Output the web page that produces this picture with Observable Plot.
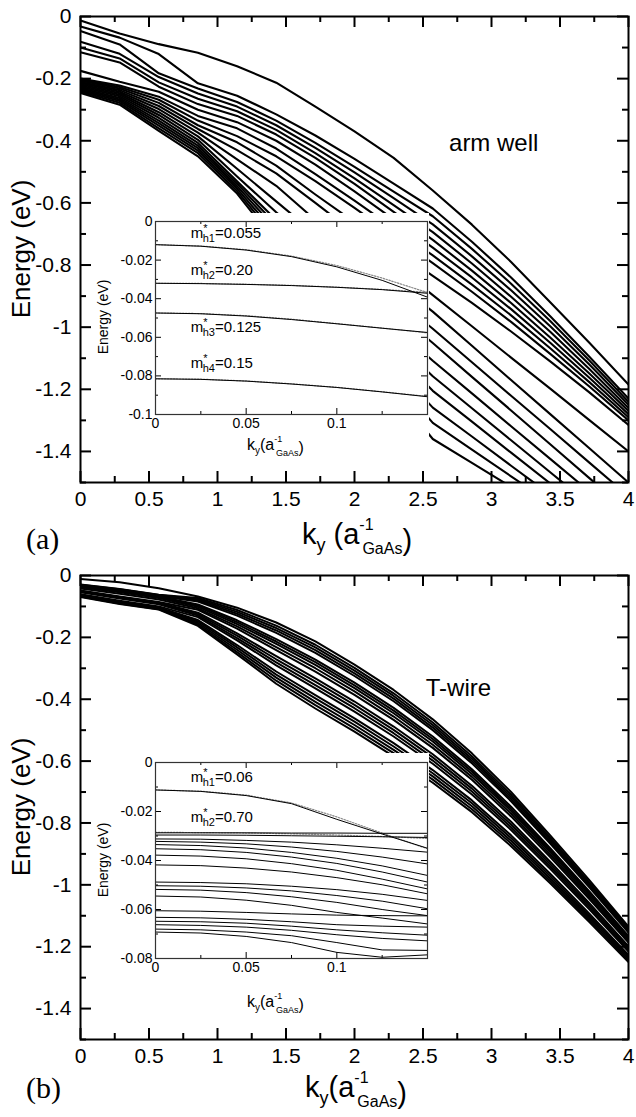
<!DOCTYPE html>
<html><head><meta charset="utf-8">
<script src="https://cdn.jsdelivr.net/npm/d3@7"></script>
<script src="https://cdn.jsdelivr.net/npm/@observablehq/plot@0.6"></script>
<style>
body{margin:0;background:#fff;}
#root{position:relative;width:636px;height:1117px;overflow:hidden;background:#fff;}
.box{position:absolute;}
</style></head><body><div id="root"></div>
<script>
// ---------------- data ----------------
const kGrid = [0, 0.2857, 0.5714, 0.8571, 1.1429, 1.4286, 1.7143, 2.0, 2.2857, 2.5714, 2.8571, 3.1429, 3.4286, 3.7143, 4.0];

// arm well: energies (eV) of the 20 hole bands at each k of kGrid
const armWellByK = [
 [-0.013,-0.032,-0.047,-0.081,-0.100,-0.115,-0.175,-0.200,-0.204,-0.207,-0.211,-0.214,-0.218,-0.222,-0.226,-0.230,-0.234,-0.238,-0.242,-0.246],
 [-0.055,-0.068,-0.090,-0.120,-0.135,-0.148,-0.210,-0.222,-0.227,-0.232,-0.237,-0.242,-0.247,-0.252,-0.257,-0.262,-0.267,-0.272,-0.278,-0.284],
 [-0.089,-0.121,-0.183,-0.195,-0.212,-0.226,-0.242,-0.258,-0.268,-0.278,-0.288,-0.298,-0.308,-0.317,-0.326,-0.335,-0.343,-0.351,-0.360,-0.368],
 [-0.117,-0.215,-0.232,-0.248,-0.265,-0.282,-0.300,-0.320,-0.335,-0.350,-0.362,-0.374,-0.386,-0.397,-0.407,-0.416,-0.424,-0.432,-0.440,-0.450],
 [-0.160,-0.255,-0.275,-0.290,-0.305,-0.320,-0.340,-0.360,-0.385,-0.405,-0.430,-0.460,-0.490,-0.515,-0.530,-0.538,-0.546,-0.554,-0.562,-0.570],
 [-0.213,-0.315,-0.335,-0.350,-0.365,-0.380,-0.400,-0.425,-0.450,-0.480,-0.505,-0.545,-0.595,-0.630,-0.655,-0.670,-0.685,-0.700,-0.715,-0.730],
 [-0.290,-0.383,-0.407,-0.423,-0.440,-0.455,-0.477,-0.507,-0.530,-0.573,-0.600,-0.655,-0.700,-0.735,-0.775,-0.800,-0.823,-0.850,-0.870,-0.890],
 [-0.370,-0.458,-0.484,-0.502,-0.521,-0.539,-0.563,-0.593,-0.616,-0.662,-0.697,-0.753,-0.801,-0.841,-0.886,-0.918,-0.949,-0.984,-1.014,-1.047],
 [-0.455,-0.538,-0.564,-0.585,-0.607,-0.629,-0.653,-0.681,-0.705,-0.748,-0.797,-0.851,-0.903,-0.946,-0.997,-1.038,-1.077,-1.122,-1.161,-1.204],
 [-0.560,-0.618,-0.643,-0.669,-0.694,-0.719,-0.744,-0.769,-0.794,-0.835,-0.897,-0.950,-1.005,-1.051,-1.108,-1.158,-1.205,-1.259,-1.308,-1.360],
 [-0.670,-0.725,-0.748,-0.772,-0.795,-0.818,-0.840,-0.863,-0.886,-0.922,-0.997,-1.060,-1.113,-1.160,-1.213,-1.261,-1.304,-1.352,-1.394,-1.437],
 [-0.790,-0.840,-0.860,-0.881,-0.902,-0.922,-0.942,-0.962,-0.983,-1.014,-1.098,-1.170,-1.221,-1.268,-1.319,-1.364,-1.404,-1.446,-1.480,-1.514],
 [-0.920,-0.965,-0.980,-0.997,-1.015,-1.033,-1.050,-1.068,-1.086,-1.110,-1.198,-1.280,-1.328,-1.377,-1.424,-1.467,-1.503,-1.539,-1.566,-1.591],
 [-1.050,-1.095,-1.107,-1.120,-1.135,-1.149,-1.163,-1.177,-1.191,-1.210,-1.299,-1.390,-1.436,-1.486,-1.529,-1.570,-1.603,-1.633,-1.651,-1.668],
 [-1.185,-1.230,-1.240,-1.250,-1.260,-1.270,-1.280,-1.290,-1.300,-1.315,-1.400,-1.500,-1.544,-1.594,-1.635,-1.673,-1.702,-1.726,-1.737,-1.745]
];

// T-wire: energies (eV) of the 19 hole bands at each k of kGrid
const tWireByK = [
 [-0.011,-0.0287,-0.0296,-0.0312,-0.0322,-0.0335,-0.0352,-0.0378,-0.0418,-0.0488,-0.0503,-0.0518,-0.0545,-0.0605,-0.0632,-0.0648,-0.0662,-0.068,-0.0692],
 [-0.022,-0.0434,-0.0445,-0.0464,-0.0476,-0.0492,-0.0512,-0.0543,-0.0592,-0.0676,-0.0695,-0.0712,-0.0745,-0.0817,-0.085,-0.087,-0.0886,-0.0908,-0.092],
 [-0.041,-0.062,-0.0631,-0.065,-0.0663,-0.0678,-0.0698,-0.0729,-0.0776,-0.086,-0.0878,-0.0895,-0.0928,-0.0999,-0.1031,-0.105,-0.1067,-0.1088,-0.110],
 [-0.068,-0.0728,-0.0766,-0.0804,-0.0842,-0.0937,-0.0975,-0.1013,-0.106,-0.1108,-0.1203,-0.125,-0.1298,-0.1345,-0.144,-0.1488,-0.1535,-0.1583,-0.163],
 [-0.104,-0.1116,-0.1176,-0.1236,-0.1297,-0.1448,-0.1508,-0.1569,-0.1644,-0.172,-0.187,-0.1946,-0.2022,-0.2097,-0.2248,-0.2324,-0.2399,-0.2475,-0.255],
 [-0.152,-0.1619,-0.1698,-0.1777,-0.1857,-0.2055,-0.2134,-0.2213,-0.2312,-0.2411,-0.2609,-0.2708,-0.2807,-0.2906,-0.3104,-0.3203,-0.3302,-0.3401,-0.35],
 [-0.213,-0.2239,-0.2325,-0.2412,-0.2499,-0.2716,-0.2803,-0.289,-0.2998,-0.3107,-0.3324,-0.3432,-0.3541,-0.3649,-0.3866,-0.3975,-0.4083,-0.4192,-0.43],
 [-0.288,-0.2989,-0.3075,-0.3162,-0.3249,-0.3466,-0.3553,-0.364,-0.3748,-0.3857,-0.4074,-0.4182,-0.4291,-0.4399,-0.4616,-0.4725,-0.4833,-0.4942,-0.505],
 [-0.37,-0.3808,-0.3894,-0.398,-0.4066,-0.4281,-0.4367,-0.4453,-0.456,-0.4668,-0.4883,-0.499,-0.5098,-0.5205,-0.542,-0.5528,-0.5635,-0.5743,-0.585],
 [-0.465,-0.4753,-0.4835,-0.4917,-0.4999,-0.5204,-0.5286,-0.5368,-0.547,-0.5573,-0.5778,-0.588,-0.5983,-0.6085,-0.629,-0.6393,-0.6495,-0.6598,-0.67],
 [-0.575,-0.5845,-0.5921,-0.5997,-0.6073,-0.6263,-0.6339,-0.6415,-0.651,-0.6605,-0.6795,-0.689,-0.6985,-0.708,-0.727,-0.7365,-0.746,-0.7555,-0.765],
 [-0.70,-0.7088,-0.7158,-0.7228,-0.7298,-0.7473,-0.7543,-0.7613,-0.77,-0.7788,-0.7963,-0.805,-0.8138,-0.8225,-0.84,-0.8488,-0.8575,-0.8663,-0.875],
 [-0.84,-0.8478,-0.854,-0.8602,-0.8664,-0.8819,-0.8881,-0.8943,-0.902,-0.9098,-0.9253,-0.933,-0.9408,-0.9485,-0.964,-0.9718,-0.9795,-0.9873,-0.995],
 [-0.985,-0.9918,-0.9972,-1.0026,-1.008,-1.0215,-1.0269,-1.0323,-1.039,-1.0458,-1.0593,-1.066,-1.0728,-1.0795,-1.093,-1.0998,-1.1065,-1.1133,-1.12],
 [-1.135,-1.1408,-1.1454,-1.15,-1.1546,-1.1661,-1.1707,-1.1753,-1.181,-1.1868,-1.1983,-1.204,-1.2098,-1.2155,-1.227,-1.2328,-1.2385,-1.2443,-1.25]
];

// insets: k grid and bands (solid) plus dotted parabolic fits
const insetK = [0, 0.025, 0.05, 0.075, 0.1, 0.125, 0.15];
const armInsetBands = [
 [-0.012,-0.0128,-0.0148,-0.0182,-0.0235,-0.0305,-0.0392],
 [-0.032,-0.0322,-0.0326,-0.0332,-0.0341,-0.0353,-0.0372],
 [-0.0474,-0.0478,-0.049,-0.0508,-0.053,-0.0553,-0.0575],
 [-0.0815,-0.0818,-0.0827,-0.0842,-0.086,-0.0883,-0.0908]
];
const armInsetFits = [
 [-0.012,-0.0127,-0.0146,-0.0179,-0.0228,-0.0293,-0.0368],
 [-0.032,-0.0321,-0.0325,-0.0331,-0.034,-0.0352,-0.0367],
 [-0.0474,-0.0477,-0.0488,-0.0506,-0.0529,-0.0552,-0.0577],
 [-0.0815,-0.0817,-0.0826,-0.0841,-0.0859,-0.0882,-0.0906]
];
const armMasses = [["h1","0.055"],["h2","0.20"],["h3","0.125"],["h4","0.15"]];

const tWireInsetBands = [
 [-0.0112,-0.0118,-0.0135,-0.0168,-0.0232,-0.0292,-0.035],
 [-0.0287,-0.0287,-0.0287,-0.0288,-0.0288,-0.0289,-0.0289],
 [-0.0296,-0.0296,-0.0297,-0.0299,-0.0301,-0.0303,-0.0306],
 [-0.0312,-0.0313,-0.0318,-0.0325,-0.0336,-0.035,-0.0366],
 [-0.0322,-0.0325,-0.0332,-0.0345,-0.0363,-0.0386,-0.0414],
 [-0.0335,-0.0339,-0.0349,-0.0367,-0.0391,-0.0422,-0.0461],
 [-0.0352,-0.0356,-0.0367,-0.0386,-0.0412,-0.0447,-0.0488],
 [-0.0378,-0.0382,-0.0393,-0.0413,-0.044,-0.0476,-0.0516],
 [-0.0418,-0.0421,-0.0431,-0.0447,-0.047,-0.0499,-0.0536],
 [-0.0488,-0.049,-0.0495,-0.0505,-0.0519,-0.0538,-0.0563],
 [-0.0503,-0.0505,-0.0512,-0.0524,-0.0543,-0.0566,-0.0597],
 [-0.0518,-0.0521,-0.0531,-0.0548,-0.0571,-0.06,-0.0625],
 [-0.0545,-0.0549,-0.0562,-0.0583,-0.0612,-0.0635,-0.0659],
 [-0.0605,-0.0607,-0.0612,-0.0618,-0.0623,-0.0625,-0.0626],
 [-0.0632,-0.0634,-0.064,-0.065,-0.0662,-0.0668,-0.0672],
 [-0.0648,-0.065,-0.0656,-0.0668,-0.0683,-0.0695,-0.0705],
 [-0.0662,-0.0665,-0.0672,-0.0685,-0.0703,-0.0718,-0.0728],
 [-0.068,-0.0683,-0.0692,-0.0707,-0.0735,-0.0765,-0.0767],
 [-0.0692,-0.0696,-0.071,-0.0735,-0.0775,-0.0795,-0.0785]
];
const tWireInsetFits = [
 [-0.0112,-0.0117,-0.0133,-0.0165,-0.0222,-0.0288,-0.0352],
 [-0.0285,-0.0286,-0.0288,-0.0291,-0.0296,-0.0302,-0.031]
];
const tWireMasses = [["h1","0.06"],["h2","0.70"]];

// ticks
const mainXMajor = [0,0.5,1,1.5,2,2.5,3,3.5,4];
const mainXMinor = [0.25,0.75,1.25,1.75,2.25,2.75,3.25,3.75];
const mainYMajor = [0,-0.2,-0.4,-0.6,-0.8,-1,-1.2,-1.4];
const mainYMinor = [-0.1,-0.3,-0.5,-0.7,-0.9,-1.1,-1.3,-1.5];
const insetXMajor = [0,0.05,0.1,0.15];
const insetXMinor = [0.025,0.075,0.125];
const armInsetYMajor = [0,-0.02,-0.04,-0.06,-0.08,-0.1];
const armInsetYMinor = [-0.01,-0.03,-0.05,-0.07,-0.09];
const tWireInsetYMajor = [0,-0.02,-0.04,-0.06,-0.08];
const tWireInsetYMinor = [-0.01,-0.03,-0.05,-0.07];

// ---------------- helpers ----------------
const FONT = '"Liberation Sans", Arial, Helvetica, sans-serif';
const fmt = d => d === 0 ? "0" : (d === 0.15 ? "" : String(d));
const root = document.getElementById("root");

function longFromColumns(cols, ks) {
  const out = [];
  cols.forEach((col, j) => col.forEach((E, i) => out.push({k: ks[j], E, band: i})));
  return out;
}
function longFromRows(rows, ks) {
  const out = [];
  rows.forEach((row, i) => row.forEach((E, j) => out.push({k: ks[j], E, band: i})));
  return out;
}
function place(el, left, top) {
  const d = document.createElement("div");
  d.className = "box";
  d.style.left = left + "px"; d.style.top = top + "px";
  d.appendChild(el); root.appendChild(d);
  return d;
}
function tickMarks(xMaj, xMin, yMaj, yMin, pw, ph, big, small, sw) {
  return [
    Plot.tickX(xMaj, {x: d => d, insetTop: ph - big, strokeWidth: sw}),
    Plot.tickX(xMaj, {x: d => d, insetBottom: ph - big, strokeWidth: sw}),
    Plot.tickX(xMin, {x: d => d, insetTop: ph - small, strokeWidth: sw}),
    Plot.tickX(xMin, {x: d => d, insetBottom: ph - small, strokeWidth: sw}),
    Plot.tickY(yMaj, {y: d => d, insetRight: pw - big, strokeWidth: sw}),
    Plot.tickY(yMaj, {y: d => d, insetLeft: pw - big, strokeWidth: sw}),
    Plot.tickY(yMin, {y: d => d, insetRight: pw - small, strokeWidth: sw}),
    Plot.tickY(yMin, {y: d => d, insetLeft: pw - small, strokeWidth: sw})
  ];
}

function mainPanel(cols, svgTop, marginTop, height, lineWidth, note) {
  const marginLeft = 80, marginRight = 8, marginBottom = height - marginTop - (note.frameH);
  const pw = 636 - marginLeft - marginRight, ph = note.frameH;
  const plot = Plot.plot({
    width: 636, height, marginLeft, marginRight, marginTop, marginBottom,
    x: {domain: [0, 4], ticks: mainXMajor, tickFormat: fmt, tickSize: 0, tickPadding: 9, label: null},
    y: {domain: [-1.5, 0], ticks: mainYMajor, tickFormat: fmt, tickSize: 0, tickPadding: 9, label: null},
    style: {fontSize: "21px", fontFamily: FONT, color: "black", background: "transparent", overflow: "visible"},
    marks: [
      Plot.line(longFromColumns(cols, kGrid), {x: "k", y: "E", z: "band", stroke: "black", strokeWidth: lineWidth, clip: true}),
      ...tickMarks(mainXMajor, mainXMinor, mainYMajor, mainYMinor, pw, ph, 11, 6, 2),
      Plot.frame({stroke: "black", strokeWidth: 2}),
      Plot.text([note], {x: "k", y: "E", text: "text", textAnchor: "start", lineAnchor: "bottom", fontSize: 24, fill: "black"})
    ]
  });
  place(plot, 0, svgTop);
}

function insetPanel(rows, fits, yDomain, yMaj, yMin, masses, massE, svgTop, marginTop, frameH, height) {
  const marginLeft = 60, marginRight = 2, marginBottom = height - marginTop - frameH;
  const pw = 334 - marginLeft - marginRight;
  const labels = masses.map((m, i) => ({k: 0.0195, E: massE[i], text: "m*" + m[0] + "=" + m[1]}));
  const plot = Plot.plot({
    width: 334, height, marginLeft, marginRight, marginTop, marginBottom,
    x: {domain: [0, 0.15], ticks: insetXMajor, tickFormat: fmt, tickSize: 0, tickPadding: 4, label: null},
    y: {domain: yDomain, ticks: yMaj, tickFormat: fmt, tickSize: 0, tickPadding: 3, label: null},
    style: {fontSize: "14px", fontFamily: FONT, color: "black", background: "white", overflow: "visible"},
    marks: [
      Plot.line(longFromRows(fits, insetK), {x: "k", y: "E", z: "band", stroke: "#888", strokeWidth: 1.2, strokeDasharray: "1.5,1.5"}),
      Plot.line(longFromRows(rows, insetK), {x: "k", y: "E", z: "band", stroke: "black", strokeWidth: 1}),
      ...tickMarks(insetXMajor, insetXMinor, yMaj, yMin, pw, frameH, 6, 3, 1),
      Plot.frame({stroke: "#333", strokeWidth: 1.2}),
      Plot.text(labels, {x: "k", y: "E", text: "text", textAnchor: "start", fontSize: 15, fill: "black"})
    ]
  });
  // superscript * and subscript hN
  d3.select(plot).selectAll("text").each(function() {
    const t = this.textContent;
    const m = /^m\*(h\d)=(.*)$/.exec(t);
    if (!m) return;
    const s = d3.select(this);
    s.text("m");
    s.append("tspan").attr("dy", -6).attr("font-size", 11).text("*");
    s.append("tspan").attr("dx", -5).attr("dy", 10).attr("font-size", 11).text(m[1]);
    s.append("tspan").attr("dy", -4).text("=" + m[2]);
  });
  place(plot, 95, svgTop);
}

// ---------------- panels ----------------
mainPanel(armWellByK, 0, 16, 560, 2.1, {k: 2.69, E: -0.432, text: "arm well", frameH: 466});
mainPanel(tWireByK, 560, 15, 557, 2, {k: 2.52, E: -0.389, text: "T-wire", frameH: 464});
insetPanel(armInsetBands, armInsetFits, [-0.1, 0], armInsetYMajor, armInsetYMinor, armMasses,
  [-0.0062, -0.0254, -0.055, -0.0736], 213, 8, 193, 250);
insetPanel(tWireInsetBands, tWireInsetFits, [-0.08, 0], tWireInsetYMajor, tWireInsetYMinor, tWireMasses,
  [-0.0061, -0.0224], 753, 9, 196, 265);

// ---------------- axis titles and panel letters ----------------
const ov = d3.select(root).append("svg").attr("width", 636).attr("height", 1117)
  .style("position", "absolute").style("left", 0).style("top", 0).style("pointer-events", "none")
  .style("font-family", FONT);

function kLabel(x, y, size, space) {
  const t = ov.append("text").attr("x", x).attr("y", y).attr("font-size", size).text("k");
  const sm = Math.round(size * 0.56);
  t.append("tspan").attr("dy", size * 0.25).attr("font-size", Math.round(size * 0.62)).text("y");
  t.append("tspan").attr("dy", -size * 0.25).text((space ? " " : "") + "(a");
  t.append("tspan").attr("dy", -size * 0.5).attr("font-size", sm).text("-1");
  t.append("tspan").attr("dx", -sm * 0.7).attr("dy", size * 0.85).attr("font-size", sm).text("GaAs");
  t.append("tspan").attr("dy", -size * 0.15).text(")");
}
function eLabel(cx, cy, size) {
  ov.append("text").attr("transform", `translate(${cx},${cy}) rotate(-90)`).attr("text-anchor", "middle")
    .attr("font-size", size).text("Energy (eV)");
}
eLabel(30, 249, 26);
eLabel(30, 807, 26);
kLabel(302, 544, 29, true);
kLabel(305, 1097, 29, false);
eLabel(108, 317, 14);
eLabel(108, 860, 14);
kLabel(247, 450, 16, false);
kLabel(247, 1007, 16, false);
ov.append("text").attr("x", 26).attr("y", 549).attr("font-family", '"Liberation Serif", "Times New Roman", serif').attr("font-size", 30).text("(a)");
ov.append("text").attr("x", 26).attr("y", 1098).attr("font-family", '"Liberation Serif", "Times New Roman", serif').attr("font-size", 30).text("(b)");
</script>
</body></html>
